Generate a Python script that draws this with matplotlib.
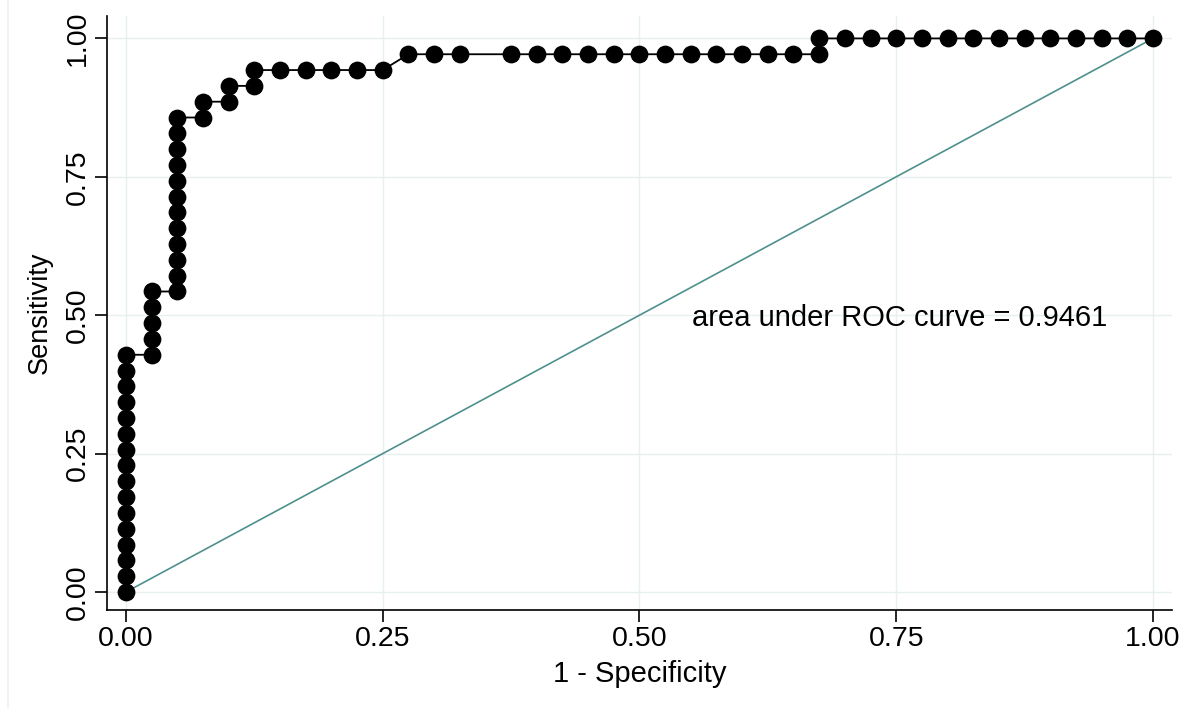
import numpy as np
import matplotlib
matplotlib.use('Agg')
import matplotlib.pyplot as plt

plt.rcParams['font.family'] = ['Liberation Sans', 'DejaVu Sans']

# ROC points (1 - specificity, sensitivity), 40 negatives / 35 positives
fpr_counts = [0]*16 + [1]*5 + [2]*12 + [3, 3, 4, 4, 5, 5, 6, 7, 8, 9, 10] \
    + [11, 12, 13] + list(range(15, 28)) + list(range(27, 41))
tpr_counts = list(range(0, 16)) + list(range(15, 20)) + list(range(19, 31)) \
    + [30, 31, 31, 32, 32, 33, 33, 33, 33, 33, 33] + [34]*3 + [34]*13 + [35]*14
n_neg = 40
n_pos = 35
auc_text = "area under ROC curve = 0.9461"
ticks = [0.0, 0.25, 0.5, 0.75, 1.0]
tick_labels = ["0.00", "0.25", "0.50", "0.75", "1.00"]

fpr = np.array(fpr_counts) / n_neg
tpr = np.array(tpr_counts) / n_pos

fig = plt.figure(figsize=(11.91, 7.08), dpi=100)
ax = fig.add_axes([0.0898, 0.1384, 0.8942, 0.8386])

ax.plot(fpr, tpr, color='black', lw=1.3, marker='o', ms=11.8,
        mfc='black', mec='black', zorder=3)
ax.plot([0, 1], [0, 1], color='#4e918c', lw=1.2, zorder=2)

ax.set_xlim(-0.0185, 1.0185)
ax.set_ylim(-0.0325, 1.04)
ax.set_xticks(ticks)
ax.set_xticklabels(tick_labels)
ax.set_yticks(ticks)
ax.set_yticklabels(tick_labels, rotation=90, va='center')
ax.grid(True, color='#e6f0f1', lw=1.0, zorder=0)
ax.set_axisbelow(True)
for s in ['top', 'right']:
    ax.spines[s].set_visible(False)
for s in ['left', 'bottom']:
    ax.spines[s].set_linewidth(1.2)
ax.tick_params(direction='out', length=8.6, width=1.2, labelsize=20.5, pad=3)
ax.set_xlabel('1 - Specificity', fontsize=21, labelpad=6)
ax.set_ylabel('Sensitivity', fontsize=19.5, labelpad=9)

ax.text(0.551, 0.495, auc_text, fontsize=21, ha='left', va='center')

fig.add_artist(plt.Line2D([0.007, 0.007], [0.0, 1.0], color='#eef3f4', lw=1.5))

fig.savefig('out.png', dpi=100)
